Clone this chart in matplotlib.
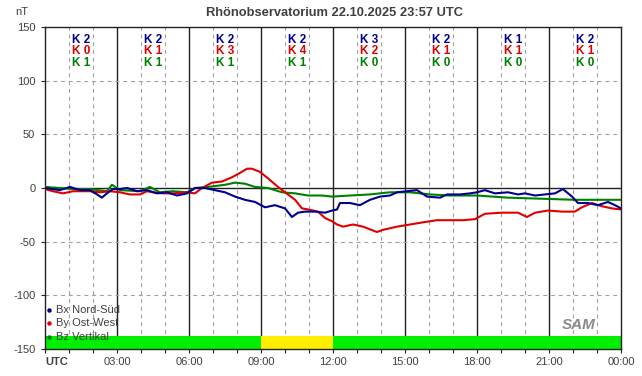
import matplotlib.pyplot as plt
import matplotlib.ticker as ticker

plt.rcParams['font.family'] = ['Liberation Sans', 'DejaVu Sans']

# hours since 00:00 UTC, values in nT
bx_t = [0, 0.62, 1.04, 1.46, 1.87, 2.17, 2.37, 2.58, 2.83, 3.12, 3.42, 3.83, 4.25, 4.67,
        5.08, 5.5, 5.92, 6.25, 6.67, 7.08, 7.5, 7.92, 8.33, 8.75, 9.17, 9.58, 10.0, 10.29,
        10.54, 10.83, 11.25, 11.67, 11.96, 12.17, 12.29, 12.71, 13.12, 13.54, 13.96, 14.37,
        14.67, 15.08, 15.5, 15.92, 16.46, 16.75, 17.29, 17.71, 18.0, 18.33, 18.75, 19.29,
        19.71, 20.0, 20.42, 20.83, 21.25, 21.58, 21.96, 22.21, 22.62, 23.04, 23.46, 23.75, 24.0]
bx_v = [0, -2, 1, -2, -2, -6, -9, -5, -1, -1, 0, -3, -2, -5,
        -4, -7, -5, 0, 0, -2, -4, -8, -11, -13, -18, -16, -19, -27,
        -23, -22, -22, -23, -21, -20, -14, -14, -16, -11, -8, -7,
        -4, -3, -2, -8, -9, -6, -6, -5, -4, -2, -5, -4,
        -6, -5, -7, -6, -5, -1, -8, -14, -14, -16, -13, -16, -19]

by_t = [0, 0.33, 0.75, 1.17, 1.87, 2.29, 2.71, 3.12, 3.54, 3.96, 4.25, 4.5, 4.92, 5.33,
        5.92, 6.25, 6.54, 6.96, 7.37, 7.79, 8.12, 8.42, 8.62, 8.96, 9.29, 9.71, 10.0, 10.42,
        10.71, 10.96, 11.37, 11.67, 11.96, 12.17, 12.42, 12.83, 13.25, 13.83, 14.08, 14.67,
        15.21, 15.75, 16.33, 16.87, 17.42, 17.92, 18.33, 19.04, 19.71, 20.08, 20.42, 20.96,
        21.54, 22.08, 22.37, 22.79, 23.21, 23.62, 24.0]
by_v = [-1, -3, -5, -3, -3, -4, -3, -4, -6, -6, -3, -4, -5, -5,
        -4, -5, 0, 5, 6, 10, 14, 18, 18, 15, 9, 1, -4, -11,
        -19, -20, -22, -28, -31, -34, -36, -34, -36, -41, -39, -36,
        -34, -32, -30, -30, -30, -29, -24, -23, -23, -27, -23, -21,
        -22, -22, -18, -14, -17, -19, -20]

bz_t = [0, 0.62, 1.17, 1.87, 2.58, 2.79, 3.12, 3.96, 4.37, 4.79, 5.33, 5.92, 6.25, 6.79,
        7.5, 7.92, 8.33, 8.75, 9.29, 9.87, 10.42, 10.96, 11.54, 11.96, 12.71, 13.54, 14.37,
        15.21, 16.04, 16.87, 18.0, 19.29, 20.71, 22.08, 24.0]
bz_v = [1, 0, -1, -1, -3, 3, -2, -3, 1, -4, -3, -4, 0, 1,
        3, 5, 4, 1, 0, -4, -5, -7, -7, -8, -7, -6, -4,
        -4, -6, -7, -7, -9, -10, -11, -11]

k_bx = [2, 2, 2, 2, 3, 2, 1, 2]
k_by = [0, 1, 3, 4, 2, 1, 1, 1]
k_bz = [1, 1, 1, 1, 0, 0, 0, 0]

# status bar segments (start, end, colour)
status = [(0, 9, '#00ee00'), (9, 12, '#ffee00'), (12, 24, '#00ee00')]

xlabels = ['UTC', '03:00', '06:00', '09:00', '12:00', '15:00', '18:00', '21:00', '00:00']

c_bx = '#000090'
c_by = '#e00000'
c_bz = '#008000'
grey = '#404040'

dpi = 100
fig = plt.figure(figsize=(642 / dpi, 376 / dpi), dpi=dpi)
ax = fig.add_axes([45 / 642, 27 / 376, 576 / 642, 322 / 376])
ax.set_xlim(0, 24)
ax.set_ylim(-150, 150)

for h in range(1, 24):
    if h % 3 == 0:
        ax.axvline(h, color='#222222', lw=1.0, zorder=1)
    else:
        ax.axvline(h, color='#a0a0a0', lw=0.8, ls=(0, (3.5, 3.5)), zorder=1)
for v in [-100, -50, 50, 100]:
    ax.axhline(v, color='#a0a0a0', lw=0.8, ls=(0, (3.5, 3.5)), zorder=1)
ax.axhline(0, color='#222222', lw=1.0, zorder=1)

for s, e, c in status:
    ax.axvspan(s, e, ymin=0, ymax=12 / 300, color=c, lw=0, zorder=2)

ax.plot(bz_t, bz_v, color=c_bz, lw=1.5, zorder=3)
ax.plot(by_t, by_v, color=c_by, lw=1.5, zorder=4)
ax.plot(bx_t, bx_v, color=c_bx, lw=1.5, zorder=5)

for i in range(8):
    xc = 1.5 + 3 * i
    ax.text(xc, 138, 'K %d' % k_bx[i], color=c_bx, ha='center', va='center',
            fontsize=8.5, fontweight='bold', zorder=6)
    ax.text(xc, 127.5, 'K %d' % k_by[i], color=c_by, ha='center', va='center',
            fontsize=8.5, fontweight='bold', zorder=6)
    ax.text(xc, 116.5, 'K %d' % k_bz[i], color=c_bz, ha='center', va='center',
            fontsize=8.5, fontweight='bold', zorder=6)

for spine in ax.spines.values():
    spine.set_color('#222222')
    spine.set_linewidth(1.0)

ax.set_xticks(range(0, 25, 3))
ax.set_xticklabels(xlabels)
ax.xaxis.set_minor_locator(ticker.MultipleLocator(1))
ax.tick_params(axis='x', which='both', direction='inout', length=6, width=0.8,
               colors='#222222', labelcolor=grey, labelsize=8, pad=3)
for lab in ax.get_xticklabels():
    lab.set_color(grey)
ax.get_xticklabels()[0].set_fontweight('bold')
ax.get_xticklabels()[0].set_horizontalalignment('left')

ax.set_yticks(range(-150, 151, 50))
ax.set_yticklabels([str(v) for v in range(-150, 151, 50)])
ax.tick_params(axis='y', direction='out', length=3, width=0.8, colors='#222222',
               labelcolor=grey, labelsize=8, pad=4)

fig.text(22 / 642, 1 - 12 / 376, 'nT', color=grey, fontsize=8, ha='center', va='center')
fig.text(335 / 642, 1 - 13 / 376, 'Rhönobservatorium 22.10.2025 23:57 UTC', color=grey,
         fontsize=9.3, fontweight='bold', ha='center', va='center')

legend_items = [('Bx Nord-Süd', c_bx), ('By Ost-West', c_by), ('Bz Vertikal', c_bz)]
for j, (name, c) in enumerate(legend_items):
    yy = -114 - j * 12.2
    ax.plot([0.15], [yy], marker='o', ms=2.2, color=c, ls='none', zorder=6)
    ax.text(0.45, yy, name, color=grey, fontsize=8, va='center', ha='left', zorder=6)

# SAM logo, roughly
ax.text(22.25, -128, 'SAM', color='#8a8a8a', fontsize=11, fontstyle='italic',
        fontweight='bold', ha='center', va='center', zorder=6)

fig.savefig('out.png', dpi=dpi)
